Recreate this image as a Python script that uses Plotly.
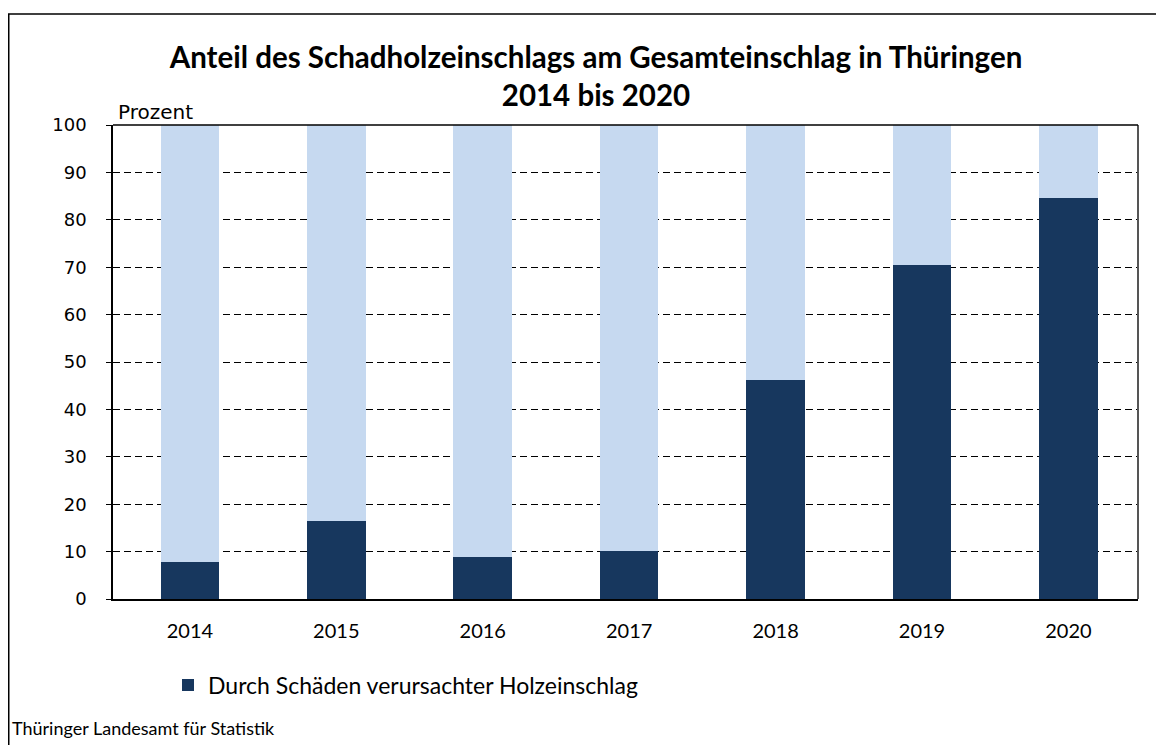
import plotly.graph_objects as go

years = ["2014", "2015", "2016", "2017", "2018", "2019", "2020"]
schaden = [7.9, 16.5, 8.9, 10.2, 46.2, 70.4, 84.6]
rest = [round(100 - v, 1) for v in schaden]
yticks = [0, 10, 20, 30, 40, 50, 60, 70, 80, 90, 100]

W, H = 1164, 745
L, R, T, B = 105, 34, 117, 154
pw, ph = W - L - R, H - T - B

def px(x):
    return (x - L) / pw

def py(y):
    return (H - B - y) / ph

FONT = "Lato"
DJ = "DejaVu Sans"

fig = go.Figure()
fig.add_trace(go.Bar(x=years, y=schaden, name="Durch Schäden verursachter Holzeinschlag",
                     marker=dict(color="#17375e", line=dict(width=0))))
fig.add_trace(go.Bar(x=years, y=rest, name="Sonstiger Holzeinschlag", showlegend=False,
                     marker=dict(color="#c6d9f0", line=dict(width=0))))

fig.update_layout(
    width=W, height=H,
    barmode="stack", bargap=0.6,
    margin=dict(l=L, r=R, t=T, b=B),
    paper_bgcolor="white", plot_bgcolor="white",
    font=dict(family=FONT, size=20, color="black"),
    title=dict(text="<b>Anteil des Schadholzeinschlags am Gesamteinschlag in Thüringen<br>2014 bis 2020</b>",
               x=588 / W, xanchor="center", xref="container",
               y=1 - 60 / H, yanchor="top", yref="container",
               font=dict(family=FONT, size=29.5, color="black")),
    showlegend=True,
    legend=dict(orientation="h", x=px(160), xanchor="left", y=py(677), yanchor="middle",
                font=dict(family=FONT, size=23), bgcolor="rgba(0,0,0,0)",
                itemwidth=30, traceorder="normal"),
    xaxis=dict(range=[-0.525, 6.475], showline=True, linecolor="black", linewidth=1.5, mirror=False,
               ticks="", tickfont=dict(family=FONT, size=20), ticklabelstandoff=13,
               showgrid=False, fixedrange=True),
    yaxis=dict(range=[0, 100], tickvals=yticks, showline=True, linecolor="black", linewidth=1.5,
               ticks="outside", ticklen=5, tickcolor="black", ticklabelstandoff=16,
               showgrid=True, gridcolor="black", gridwidth=1, griddash="7px,4px",
               tickfont=dict(family=DJ, size=18), zeroline=False, fixedrange=True),
)

# plot frame right and top
fig.add_shape(type="line", xref="paper", yref="paper", x0=1, x1=1, y0=0, y1=1,
              line=dict(color="#555555", width=2))
fig.add_shape(type="line", xref="paper", yref="paper", x0=0, x1=1, y0=1, y1=1,
              line=dict(color="black", width=1.5))
# outer border
fig.add_shape(type="rect", xref="paper", yref="paper", x0=px(0.75), x1=px(1200), y0=py(6), y1=py(800),
              line=dict(color="black", width=1.5), layer="below")

fig.add_annotation(text="Prozent", xref="paper", yref="paper", x=px(108), y=py(104),
                   xanchor="left", yanchor="middle", showarrow=False,
                   font=dict(family=DJ, size=20))
fig.add_annotation(text="Thüringer Landesamt für Statistik", xref="paper", yref="paper",
                   x=px(2), y=py(720), xanchor="left", yanchor="middle", showarrow=False,
                   font=dict(family=FONT, size=18))

fig.write_html("out.html")
